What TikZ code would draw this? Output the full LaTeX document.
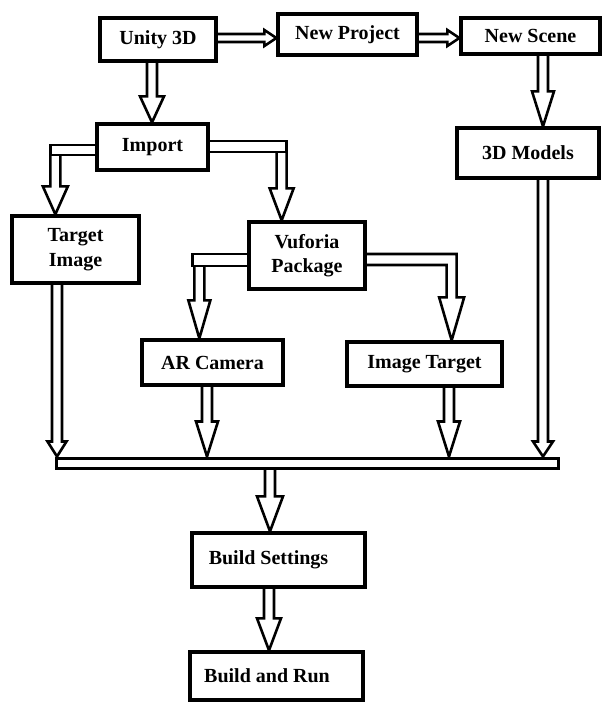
\documentclass[tikz,border=0pt]{standalone}
\usepackage{fontspec}
\setmainfont{Liberation Serif}
\usetikzlibrary{calc,backgrounds}
\tikzset{
  box/.style={draw, line width=3.3pt, fill=white, inner sep=0pt, align=center,
              font=\fontsize{20}{24.5}\selectfont\bfseries},
  arr/.style={draw, line width=2.6pt, fill=white, line join=miter},
}
% hollow arrow pointing down: start, end, shaft half, head half, head length
\newcommand\hdown[5]{\path[arr] let \p1=#1, \p2=#2 in
  (\x1-#3pt,\y1) -- (\x1-#3pt,\y2+#5pt) -- (\x1-#4pt,\y2+#5pt) -- (\x1,\y2)
  -- (\x1+#4pt,\y2+#5pt) -- (\x1+#3pt,\y2+#5pt) -- (\x1+#3pt,\y1);}
% hollow arrow pointing right
\newcommand\hright[5]{\path[arr] let \p1=#1, \p2=#2 in
  (\x1,\y1+#3pt) -- (\x2-#5pt,\y1+#3pt) -- (\x2-#5pt,\y1+#4pt) -- (\x2,\y1)
  -- (\x2-#5pt,\y1-#4pt) -- (\x2-#5pt,\y1-#3pt) -- (\x1,\y1-#3pt);}
\begin{document}
\begin{tikzpicture}[x=1pt,y=-1pt]
\useasboundingbox (0,0) rectangle (609,702);
\node[box, minimum width=116, minimum height=43] (unity) at (158,39.5) {Unity 3D};
\node[box, minimum width=139, minimum height=41] (newproj) at (347.5,34.5) {New Project};
\node[box, minimum width=139, minimum height=36] (newscene) at (530.5,36) {New Scene};
\node[box, minimum width=111, minimum height=46] (import) at (152.5,147) {Import};
\node[box, minimum width=142, minimum height=50] (models) at (528,153) {3D Models};
\node[box, minimum width=127, minimum height=67] (target) at (75.5,249.5) {Target\\Image};
\node[box, minimum width=116, minimum height=67] (vuforia) at (307,255.5) {Vuforia\\Package};
\node[box, minimum width=141, minimum height=45] (arcam) at (212.5,362.5) {AR Camera};
\node[box, minimum width=155, minimum height=44] (imgtarget) at (424.5,364) {Image Target};
\node[draw, line width=3pt, fill=white, inner sep=0pt, minimum width=502, minimum height=10] (bar) at (307,463) {};
\node[box, minimum width=173, minimum height=54] (buildset) at (278.5,560) {Build Settings\hspace*{20pt}};
\node[box, minimum width=173, minimum height=48] (buildrun) at (276.5,676) {Build and Run\hspace*{19pt}};

\coordinate (ilb) at ($(import.west)+(-40,8)$);
\coordinate (irb) at ($(import.east)+(72,5)$);
\coordinate (vlb) at ($(vuforia.west)+(-48,4.5)$);
\coordinate (vrb) at ($(vuforia.east)+(85,0)$);

\begin{scope}[on background layer]
  \hright{([yshift=1.5pt]unity.east)}{(newproj.west)}{4}{8}{12}
  \hright{([yshift=-3.5pt]newproj.east)}{(newscene.west)}{4}{8}{12}
  \hdown{([xshift=-6pt]unity.south)}{(import.north)}{5}{12}{26}
  \hdown{([xshift=12.5pt]newscene.south)}{(models.north)}{5}{11}{35}
  \hdown{(ilb)}{(target.north)}{5}{12.5}{28}
  \hdown{(irb)}{(vuforia.north)}{5}{12}{32}
  \hdown{(vlb)}{(arcam.north)}{5}{11}{38}
  \hdown{([xshift=-18.5pt]target.south)}{(bar.north)}{5}{9.5}{15}
  \hdown{([xshift=-5.5pt]arcam.south)}{(bar.north)}{5}{11}{35}
  \hdown{([xshift=24.5pt]imgtarget.south)}{(bar.north)}{5}{11}{35}
  \hdown{([xshift=15pt]models.south)}{(bar.north)}{5}{10}{15}
  \hdown{([xshift=-37pt]bar.south)}{(buildset.north)}{5}{13}{35}
  \hdown{([xshift=-9.5pt]buildset.south)}{(buildrun.north)}{5}{12}{32}
  % elbow bars
  \path[arr] ([yshift=2pt]import.west) -- ++(-45,0) -- ++(0,10) -- ([yshift=-8pt]import.west);
  \path[arr] ([yshift=6pt]import.east) -- ++(77,0) -- ++(0,11) -- ([yshift=-5pt]import.east);
  \path[arr] ([yshift=1.5pt]vuforia.west) -- ++(-55,0) -- ++(0,12) -- ([yshift=-10.5pt]vuforia.west);
  % Vuforia -> Image Target elbow arrow
  \path[arr] let \p1=(vuforia.east), \p2=(imgtarget.north), \p3=(vrb) in
    (\x1,\y1+1.5pt) -- (\x3+5pt,\y1+1.5pt) -- (\x3+5pt,\y2+43pt) -- (\x3+12.5pt,\y2+43pt)
    -- (\x3,\y2) -- (\x3-12.5pt,\y2+43pt) -- (\x3-5pt,\y2+43pt) -- (\x3-5pt,\y1-9.5pt)
    -- (\x1,\y1-9.5pt);
\end{scope}
\end{tikzpicture}
\end{document}
